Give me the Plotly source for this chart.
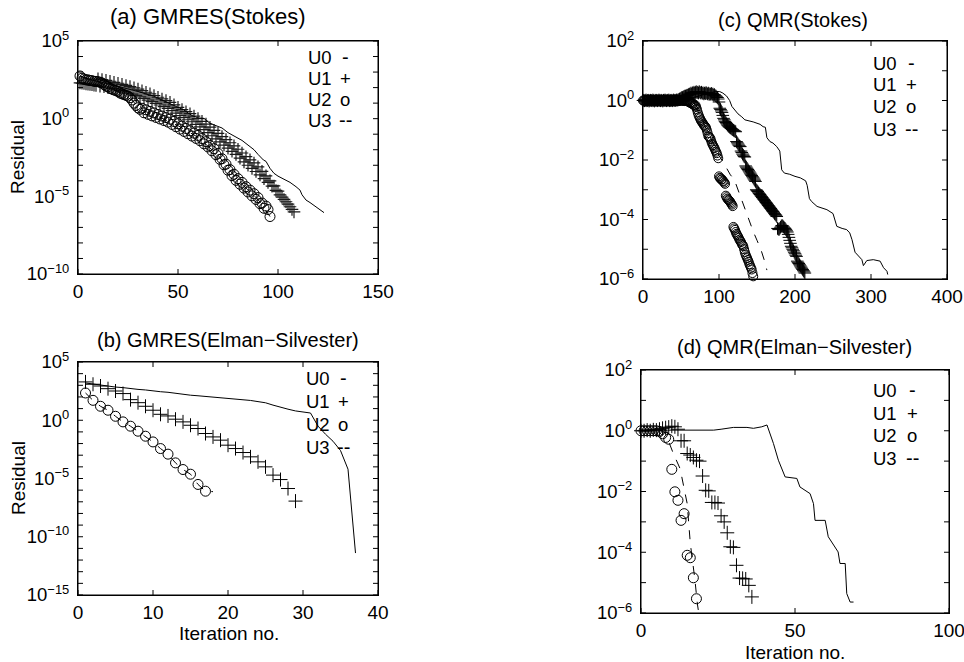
import plotly.graph_objects as go

FONT = "Liberation Sans, Arial, Helvetica, sans-serif"

# ---------------- data (values are log10 of the residual) ----------------
# (a) GMRES(Stokes)
A_U0_X = [1, 5, 10, 15, 20, 25, 30, 35, 38, 42, 46, 49, 53, 57, 60, 63, 66, 69, 72, 75,
          79, 82, 85, 88, 90, 92.7, 94, 96, 98, 100, 103, 106, 109, 111, 112, 114, 116, 118, 120, 123]
A_U0_LOG = [2.75, 2.55, 2.4, 2.25, 2.1, 1.9, 1.75, 1.55, 1.45, 1.2, 0.95, 0.8, 0.55, 0.2, 0.05, 0.02, -0.3, -0.45, -0.6, -0.9,
            -1.16, -1.4, -1.7, -2.0, -2.3, -2.66, -2.75, -3.2, -3.52, -3.7, -3.9, -4.1, -4.38, -4.6, -4.9, -5.24, -5.4, -5.6, -5.75, -6.05]
A_U1_START = 1
A_U1_LOG = [2.30, 2.28, 2.26, 2.24, 2.22, 2.20, 2.18, 2.16, 2.14, 2.57,
            2.09, 2.52, 2.05, 2.47, 1.99, 2.41, 1.93, 2.34, 1.86, 2.28,
            1.80, 2.21, 1.72, 2.14, 1.65, 2.06, 1.58, 1.99, 1.50, 1.90,
            1.40, 1.80, 1.30, 1.70, 1.20, 1.60, 1.10, 1.49, 0.99, 1.38,
            0.88, 1.27, 0.77, 1.16, 0.66, 1.05, 0.52, 0.89, 0.36, 0.73,
            0.20, 0.58, 0.07, 0.45, -0.07, 0.32, -0.20, 0.17, -0.37, 0.00,
            -0.53, -0.17, -0.70, -0.35, -0.90, -0.55, -1.10, -0.75, -1.30, -0.95,
            -1.50, -1.15, -1.70, -1.35, -1.90, -1.55, -2.10, -1.75, -2.30, -1.97,
            -2.54, -2.21, -2.78, -2.45, -3.00, -2.65, -3.20, -2.85, -3.40, -3.10,
            -3.62, -3.39, -3.86, -3.68, -4.10, -4.00, -4.34, -4.33, -4.62, -4.66,
            -4.90, -5.05, -5.20, -5.35, -5.50, -5.67, -5.84, -6.00]
A_U2_START = 1
A_U2_LOG = [2.75, 2.6, 2.55, 2.5, 2.5, 2.45, 2.45, 2.4, 2.4, 2.38,
            2.35, 2.3, 2.2, 2.1, 2.05, 1.95, 1.9, 1.85, 1.8, 1.75,
            1.65, 1.6, 1.55, 1.5, 1.45, 1.35, 1.2, 1.0, 0.85, 0.7,
            0.6, 0.67, 0.38, 0.57, 0.28, 0.47, 0.18, 0.37, 0.08, 0.27,
            -0.02, 0.17, -0.12, 0.07, -0.22, -0.03, -0.37, -0.18, -0.52, -0.33,
            -0.67, -0.48, -0.82, -0.63, -0.97, -0.78, -1.12, -0.93, -1.27, -1.08,
            -1.42, -1.28, -1.62, -1.48, -1.82, -1.73, -2.07, -1.93, -2.32, -2.23,
            -2.62, -2.58, -2.97, -2.93, -3.32, -3.28, -3.67, -3.58, -3.97, -3.86,
            -4.22, -4.10, -4.47, -4.38, -4.72, -4.60, -4.97, -4.83, -5.20, -5.08,
            -5.47, -5.43, -5.77, -5.63, -5.85, -6.3]
A_U3_X = [1, 10, 20, 27, 31, 40, 50, 60, 70, 80, 90, 96]
A_U3_LOG = [2.75, 2.38, 1.75, 1.2, 0.6, 0.15, -0.45, -1.2, -2.35, -3.98, -5.2, -6.3]

# (b) GMRES(Elman-Silvester)
B_U0_START = 1
B_U0_LOG = [3.2, 3.1, 3.0, 2.9, 2.85, 2.8, 2.7, 2.65, 2.6, 2.5,
            2.45, 2.4, 2.3, 2.25, 2.15, 2.1, 2.05, 2.0, 1.95, 1.9,
            1.8, 1.75, 1.7, 1.6, 1.5, 1.3, 1.1, 0.95, 0.8, 0.7,
            0.62, -0.5, -1.2, -1.8, -2.6, -4.2, -11.4]
B_U1_START = 1
B_U1_LOG = [3.29, 3.09, 2.94, 2.71, 2.51, 2.29, 1.77, 1.51, 1.2, 0.86,
            0.51, 0.37, 0.09, -0.14, -0.43, -0.71, -1.14, -1.43, -1.71, -2.14,
            -2.43, -2.77, -3.14, -3.57, -4.0, -4.71, -5.09, -5.86, -6.94]
B_U2_START = 1
B_U2_LOG = [2.34, 1.71, 1.2, 0.86, 0.34, -0.14, -0.51, -0.94, -1.37, -1.86,
            -2.43, -2.91, -3.66, -4.23, -4.63, -5.51, -6.09]
B_U3_START = 1
B_U3_LOG = [2.34, 1.71, 1.2, 0.86, 0.34, -0.14, -0.51, -0.94, -1.37, -1.86,
            -2.43, -2.91, -3.66, -4.23, -4.63, -5.51, -6.09, -6.13]

# (c) QMR(Stokes)
C_U0_X = [0, 60, 80, 95, 101, 105, 110, 114, 117, 120,
          125, 130, 134, 145, 154, 158, 161, 163, 167, 171,
          176, 180, 182.5, 186, 193, 200, 207, 214, 216, 219,
          222, 229, 242, 250, 255, 262, 268, 272, 275, 279,
          283.5, 288, 290, 294.5, 303, 312, 316.5, 321, 322]
C_U0_LOG = [0.0, 0.05, 0.2, 0.3, 0.3, 0.25, 0.15, 0.0, -0.2, -0.3,
            -0.45, -0.55, -0.65, -0.72, -0.8, -0.88, -0.9, -1.25, -1.38, -1.43,
            -1.55, -1.7, -2.33, -2.44, -2.48, -2.55, -2.6, -2.7, -2.85, -3.3,
            -3.4, -3.56, -3.67, -3.8, -4.23, -4.3, -4.34, -4.45, -4.68, -5.1,
            -5.24, -5.35, -5.55, -5.38, -5.35, -5.4, -5.62, -5.74, -5.85]
C_U1_START = 0
C_U1_LOG = [0.0, 0.01, -0.01, 0.0, 0.02, -0.01, 0.0, 0.01, -0.02, 0.0,
            0.01, 0.0, -0.01, 0.02, 0.0, -0.02, 0.01, 0.0, 0.01, -0.01,
            0.0, 0.02, 0.0, -0.01, 0.01, 0.0, -0.02, 0.01, 0.0, 0.02,
            0.0, -0.01, 0.01, 0.0, 0.02, -0.01, 0.0, 0.01, 0.0, -0.01,
            0.02, 0.0, 0.01, 0.0, 0.02, 0.01,
            0.02, 0.03, 0.05, 0.06, 0.08, 0.1, 0.1, 0.12, 0.13, 0.15, 0.15, 0.16, 0.18, 0.18, 0.2,
            0.22, 0.2, 0.25, 0.22, 0.26, 0.24, 0.28, 0.25, 0.27, 0.3,
            0.26, 0.28, 0.25, 0.3, 0.27, 0.25, 0.28, 0.24, 0.26, 0.22,
            0.25, 0.23, 0.27, 0.24, 0.22, 0.25, 0.2, 0.23, 0.21, 0.24,
            0.2, 0.22, 0.18, 0.2, 0.16,
            0.15, 0.12, 0.1, 0.05, -0.05,
            -0.26, -0.3, -0.35, -0.4, -0.5, -0.6, -0.65,
            -0.7, -0.74, -0.78, -0.82, -0.85, -0.88, -0.9, -0.92, -0.94, -0.96, -0.98, -1.0, -1.02, -1.03, -1.05,
            -1.38, -1.42, -1.46, -1.5, -1.53, -1.55,
            -1.7, -1.75, -1.8, -1.84, -1.88, -1.9,
            -2.2, -2.24, -2.28, -2.32, -2.36, -2.4, -2.44, -2.48, -2.52, -2.56, -2.6, -2.64, -2.68, -2.72,
            -3.0, -3.03, -3.06, -3.1, -3.13, -3.16, -3.2, -3.23, -3.26, -3.3,
            -3.33, -3.36, -3.4, -3.43, -3.46, -3.5, -3.53, -3.56, -3.6, -3.63,
            -3.66, -3.7, -3.73, -3.76, -3.8, -3.83, -3.86, -3.9,
            -4.3, -4.32, -4.34, -4.3, -4.26, -4.22, -4.2, -4.22, -4.25, -4.28, -4.3, -4.34, -4.38, -4.42,
            -4.5, -4.6, -4.7, -4.8, -4.9, -4.95, -5.0, -5.05, -5.1, -5.15, -5.2, -5.24,
            -5.4, -5.44, -5.48, -5.52, -5.56, -5.6, -5.64, -5.68, -5.72, -5.76, -5.8]
C_U2_START = 0
C_U2_LOG = [0.0, -0.01, 0.01, 0.0, -0.02, 0.01, 0.0, 0.02, -0.01, 0.0,
            0.01, -0.01, 0.0, 0.02, 0.0, -0.01, 0.01, 0.0, -0.02, 0.0,
            0.01, 0.0, -0.01, 0.01, 0.0, 0.02, -0.01, 0.0, 0.01, -0.01,
            0.0, 0.02, 0.0, -0.01, 0.01, 0.0, -0.02, 0.01, 0.0, 0.01,
            -0.01, 0.0, 0.02, 0.0, -0.01, 0.01, 0.0, -0.02, 0.0, 0.01,
            -0.01, 0.0, 0.01, -0.01, 0.0, -0.02, 0.0, -0.01, -0.01,
            -0.02, -0.05, -0.03, -0.08, -0.06, -0.1, -0.12, -0.1, -0.15, -0.18,
            -0.16, -0.22, -0.3, -0.4, -0.48, -0.55, -0.6, -0.66, -0.7, -0.74,
            -0.78, -0.82, -0.85, -0.88, -0.92, -1.0, -1.1, -1.2, -1.22, -1.25,
            -1.3, -1.38, -1.45, -1.5, -1.55, -1.6, -1.66, -1.72, -1.77, -1.85,
            -1.94, -2.55, -2.6, -2.62, -2.66, -2.65, -2.7, -2.72, -2.76, -2.8,
            -3.2, -3.25, -3.3, -3.33, -3.35, -3.38, -3.42, -3.46, -3.5, -3.55,
            -4.25, -4.3, -4.35, -4.42, -4.48, -4.53, -4.57, -4.62, -4.68, -4.72,
            -4.76, -4.82, -4.86, -4.9, -5.0, -5.1, -5.18, -5.24, -5.3, -5.36,
            -5.42, -5.5, -5.56, -5.62, -5.68, -5.8, -5.91]
C_U3_X = [0, 60, 68, 72, 76, 80, 85, 90, 95, 100, 105, 110, 115, 120, 125, 128, 134, 141, 145, 150, 155, 160, 163]
C_U3_LOG = [0.0, 0.0, -0.05, -0.25, -0.5, -0.78, -1.05, -1.3, -1.6, -1.85, -2.05, -2.3, -2.5, -2.65, -3.0, -3.25,
            -3.65, -4.15, -4.4, -4.7, -5.0, -5.4, -5.7]

# (d) QMR(Elman-Silvester)
D_U0_X = [0, 23.6, 26, 30, 34.4, 36.5, 39.2, 40.9, 43, 44.6, 46.8, 50.6, 51.6, 54.9, 56, 56.5,
          59.8, 60.8, 64, 64.6, 66.3, 66.8, 67.9, 69]
D_U0_LOG = [0.02, 0.02, 0.05, 0.11, 0.11, 0.08, 0.13, 0.19, -0.42, -0.97, -1.52, -1.57, -1.85, -2.07, -2.4, -2.95,
            -2.95, -3.49, -3.99, -4.37, -4.37, -5.36, -5.64, -5.64]
D_U1_START = 0
D_U1_LOG = [0.0, 0.0, 0.02, 0.0, 0.03, 0.02, 0.05, 0.08, 0.1, 0.12,
            0.15, 0.13, 0.05, -0.33, -0.33, -0.75, -0.8, -0.88, -0.97, -1.0,
            -1.49, -1.96, -1.98, -2.36, -2.36, -2.38, -2.8, -3.0, -3.36, -3.82,
            -3.84, -4.43, -4.85, -4.86, -4.88, -5.09, -5.47]
D_U2_START = 0
D_U2_LOG = [0.0, 0.0, 0.0, 0.0, 0.0, 0.0, -0.02, -0.1, -0.22, -0.28,
            -1.27, -2.01, -2.29, -2.95, -2.73, -4.1, -4.18, -4.84, -5.53]
D_U3_X = [0, 7, 8, 9.5, 10.5, 12.7, 14, 15, 16, 17, 17.5, 18.3, 18.6]
D_U3_LOG = [0.0, 0.0, -0.1, -0.5, -0.75, -1.25, -1.9, -2.4, -3.7, -4.4, -4.9, -5.7, -5.9]

# tick definitions
A_YTICK_EXP = [5, 4, 3, 2, 1, 0, -1, -2, -3, -4, -5, -6, -7, -8, -9, -10]
A_YTICK_LABELED = [5, 0, -5, -10]
B_YTICK_EXP = [5, 4, 3, 2, 1, 0, -1, -2, -3, -4, -5, -6, -7, -8, -9, -10, -11, -12, -13, -14, -15]
B_YTICK_LABELED = [5, 0, -5, -10, -15]
CD_YTICK_EXP = [2, 1, 0, -1, -2, -3, -4, -5, -6]
CD_YTICK_LABELED = [2, 0, -2, -4, -6]
A_XTICKS = [0, 50, 100, 150]
B_XTICKS = [0, 10, 20, 30, 40]
C_XTICKS = [0, 100, 200, 300, 400]
D_XTICKS = [0, 50, 100]

TITLES = ["(a) GMRES(Stokes)", "(b) GMRES(Elman\u2212Silvester)", "(c) QMR(Stokes)", "(d) QMR(Elman\u2212Silvester)"]
LEGEND_NAMES = ["U0", "U1", "U2", "U3"]
LEGEND_SYMBOLS = ["-", "+", "o", "--"]

# ---------------- figure ----------------
W, H = 964, 662


def px_x(p):
    return p / W


def px_y(p):
    return 1 - p / H


def lin(v):
    return [10 ** e for e in v]


def seq(start, vals):
    return list(range(start, start + len(vals)))


fig = go.Figure()


def add_line(xa, ya, x, ylog, dash="solid"):
    fig.add_trace(go.Scatter(x=x, y=lin(ylog), mode="lines", xaxis=xa, yaxis=ya,
                             line=dict(color="black", width=1, dash=dash), hoverinfo="skip"))


def add_marks(xa, ya, x, ylog, symbol, size, width=1, color="black"):
    fig.add_trace(go.Scatter(x=x, y=lin(ylog), mode="markers", xaxis=xa, yaxis=ya, cliponaxis=False,
                             marker=dict(symbol=symbol, size=size, color=color,
                                         line=dict(color=color, width=width)), hoverinfo="skip"))


# (a)
add_marks("x", "y", seq(A_U1_START, A_U1_LOG), A_U1_LOG, "cross-thin-open", 9, 1.2, "#1a1a1a")
add_marks("x", "y", seq(A_U2_START, A_U2_LOG), A_U2_LOG, "circle-open", 10)
add_line("x", "y", A_U3_X, A_U3_LOG, "dash")
add_line("x", "y", A_U0_X, A_U0_LOG)
# (b)
add_line("x2", "y2", seq(B_U0_START, B_U0_LOG), B_U0_LOG)
add_marks("x2", "y2", seq(B_U1_START, B_U1_LOG), B_U1_LOG, "cross-thin-open", 10)
add_marks("x2", "y2", seq(B_U2_START, B_U2_LOG), B_U2_LOG, "circle-open", 10)
add_line("x2", "y2", seq(B_U3_START, B_U3_LOG), B_U3_LOG, "dash")
# (c)
add_line("x3", "y3", C_U0_X, C_U0_LOG)
add_marks("x3", "y3", seq(C_U1_START, C_U1_LOG), C_U1_LOG, "cross-thin-open", 9)
add_marks("x3", "y3", seq(C_U2_START, C_U2_LOG), C_U2_LOG, "circle-open", 9)
add_line("x3", "y3", C_U3_X, C_U3_LOG, "dash")
# (d)
add_line("x4", "y4", D_U0_X, D_U0_LOG)
add_marks("x4", "y4", seq(D_U1_START, D_U1_LOG), D_U1_LOG, "cross-thin-open", 10)
add_marks("x4", "y4", seq(D_U2_START, D_U2_LOG), D_U2_LOG, "circle-open", 10)
add_line("x4", "y4", D_U3_X, D_U3_LOG, "dash")


def sup(e):
    s = str(e).replace("-", "\u2212")
    return "10<sup>%s</sup>" % s


COMMON = dict(showline=True, linecolor="black", linewidth=1, mirror=True,
              ticks="", showgrid=False, zeroline=False, automargin=False,
              ticklabeloverflow="allow")


def yaxis(dom, exps, labeled, anchor):
    return dict(domain=dom, type="log", range=[min(exps), max(exps)], anchor=anchor,
                tickmode="array", tickvals=[10 ** e for e in labeled],
                ticktext=[sup(e) for e in labeled], ticklabelstandoff=4,
                tickfont=dict(family=FONT, size=18.5, color="black"), **COMMON)


def xaxis(dom, ticks, anchor):
    return dict(domain=dom, range=[ticks[0], ticks[-1]], anchor=anchor,
                tickmode="array", tickvals=ticks,
                tickfont=dict(family=FONT, size=19, color="black"), **COMMON)


# panel boxes in pixels: (left, top, right, bottom)
PANELS = {
    "": (78, 41, 378, 274),
    "2": (78, 362, 378, 595),
    "3": (643, 41, 947, 279),
    "4": (641, 370, 949, 613),
}

fig.update_layout(
    template="none",
    width=W, height=H, margin=dict(l=0, r=0, t=0, b=0, pad=0),
    paper_bgcolor="white", plot_bgcolor="white", showlegend=False,
    font=dict(family=FONT, color="black"),
    xaxis=xaxis([px_x(78), px_x(378)], A_XTICKS, "y"),
    yaxis=yaxis([px_y(274), px_y(41)], A_YTICK_EXP, A_YTICK_LABELED, "x"),
    xaxis2=xaxis([px_x(78), px_x(378)], B_XTICKS, "y2"),
    yaxis2=yaxis([px_y(595), px_y(362)], B_YTICK_EXP, B_YTICK_LABELED, "x2"),
    xaxis3=xaxis([px_x(643), px_x(947)], C_XTICKS, "y3"),
    yaxis3=yaxis([px_y(279), px_y(41)], CD_YTICK_EXP, CD_YTICK_LABELED, "x3"),
    xaxis4=xaxis([px_x(641), px_x(949)], D_XTICKS, "y4"),
    yaxis4=yaxis([px_y(613), px_y(370)], CD_YTICK_EXP, CD_YTICK_LABELED, "x4"),
)

# frame and tick marks drawn as shapes (inside ticks on all four sides)
shapes = []
TL = 5
PANEL_TICKS = [("", A_XTICKS, A_YTICK_EXP), ("2", B_XTICKS, B_YTICK_EXP),
               ("3", C_XTICKS, CD_YTICK_EXP), ("4", D_XTICKS, CD_YTICK_EXP)]
for suf, xt, ye in PANEL_TICKS:
    l, t, r, b = PANELS[suf]
    pw, ph = r - l, b - t
    xr, yr = "x" + suf, "y" + suf
    ln = dict(color="black", width=1)
    shapes.append(dict(type="rect", xref=xr + " domain", yref=yr + " domain", x0=0, x1=1, y0=0, y1=1,
                       line=ln, layer="above"))
    for v in xt:
        shapes.append(dict(type="line", xref=xr, yref=yr + " domain", x0=v, x1=v, y0=0, y1=TL / ph, line=ln))
        shapes.append(dict(type="line", xref=xr, yref=yr + " domain", x0=v, x1=v, y0=1 - TL / ph, y1=1, line=ln))
    for e in ye:
        yv = 10 ** e
        shapes.append(dict(type="line", xref=xr + " domain", yref=yr, x0=0, x1=TL / pw, y0=yv, y1=yv, line=ln))
        shapes.append(dict(type="line", xref=xr + " domain", yref=yr, x0=1 - TL / pw, x1=1, y0=yv, y1=yv, line=ln))

ann = []


def text(x, y, s, size, xanchor="center", angle=0):
    ann.append(dict(x=px_x(x), y=px_y(y), xref="paper", yref="paper", text=s, showarrow=False,
                    xanchor=xanchor, yanchor="middle", textangle=angle, borderpad=0,
                    font=dict(family=FONT, size=size, color="black")))


# titles
text(208, 17, TITLES[0], 22)
text(228, 340, TITLES[1], 20)
text(793, 20, TITLES[2], 20)
text(794, 347, TITLES[3], 20)
# axis titles
text(18, 157, "Residual", 19, angle=-90)
text(18, 478, "Residual", 19, angle=-90)
text(229, 633, "Iteration no.", 19)
text(795, 652, "Iteration no.", 19)

# legends
LEG = [
    (307, 345, [57, 78, 99, 120]),
    (305, 343, [378, 401, 424, 447]),
    (872, 911, [63, 85, 107, 129]),
    (872, 912, [390, 413, 436, 458]),
]
for lx, sx, ys in LEG:
    for name, sym, yy in zip(LEGEND_NAMES, LEGEND_SYMBOLS, ys):
        text(lx, yy, name, 18.5, xanchor="left")
        text(sx, yy, sym, 20 if "-" in sym else 18.5)

fig.update_layout(annotations=ann, shapes=shapes)
fig.write_html("out.html")
